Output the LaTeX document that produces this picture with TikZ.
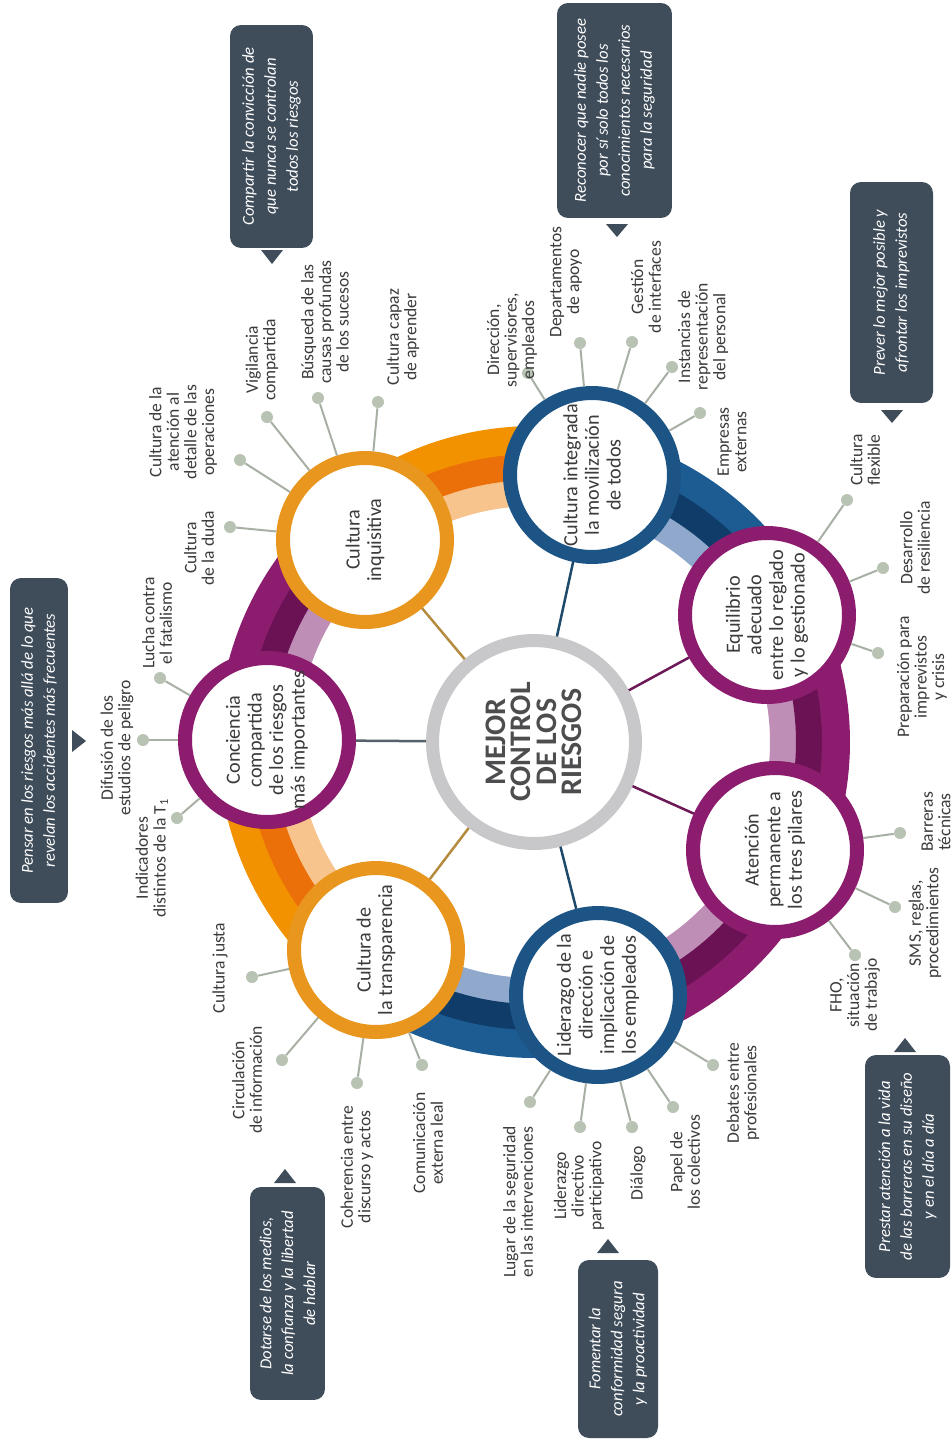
\documentclass[tikz,border=0pt]{standalone}
\usepackage{fontspec}
\setmainfont{Carlito}
\usetikzlibrary{calc}

\definecolor{purp}{HTML}{8C1C6D}
\definecolor{purpdk}{HTML}{6A1253}
\definecolor{purplt}{HTML}{BF8EB6}
\definecolor{oran}{HTML}{F39200}
\definecolor{orandk}{HTML}{EC700A}
\definecolor{oranlt}{HTML}{F8C48E}
\definecolor{oranring}{HTML}{E9961F}
\definecolor{blu}{HTML}{1C5C93}
\definecolor{bludk}{HTML}{0F3C69}
\definecolor{blult}{HTML}{8FA8CB}
\definecolor{bluring}{HTML}{1B5485}
\definecolor{ctrgray}{HTML}{C8C8CA}
\definecolor{ctrtext}{HTML}{4D4D4F}
\definecolor{slate}{HTML}{3F4C5A}
\definecolor{leafline}{HTML}{A8B0A5}
\definecolor{leafdot}{HTML}{B8C3B4}
\definecolor{ink}{HTML}{3B3B3B}
\definecolor{spkgray}{HTML}{56616B}
\definecolor{spkoran}{HTML}{B58B3F}
\definecolor{spkblue}{HTML}{1D4A6B}
\definecolor{spkpurp}{HTML}{6D1857}

\tikzset{
  pillar/.style={shape=circle,draw=#1,line width=0.28cm,fill=white,inner sep=0pt,
    minimum size=3.28cm,rotate=90,align=center,text=ink,font=\fontsize{11.5}{12.3}\selectfont},
  leaf/.style={rotate=90,align=center,inner sep=1pt,text=ink,font=\fontsize{10}{10}\selectfont},
  pin/.style={shape=circle,fill=leafdot,inner sep=0pt,minimum size=0.24cm},
  twig/.style={draw=leafline,line width=0.04cm},
  spoke/.style={draw=#1,line width=0.05cm},
  callout/.style={rounded corners=0.22cm,fill=slate,text=white,rotate=90,align=center,
    inner sep=2pt,font=\fontsize{9.5}{12.5}\selectfont\itshape},
}

% ring segment round the centre, radii in px
\newcommand\arcband[5]{\fill[#1] plot[domain=#2:#3,samples=36] ({534+#5*cos(\x)},{742+#5*sin(\x)})
  -- plot[domain=#3:#2,samples=36] ({534+#4*cos(\x)},{742+#4*sin(\x)}) -- cycle;}

\begin{document}
\begin{tikzpicture}[x=0.02cm,y=-0.02cm]
\path[use as bounding box,fill=white] (0,0) rectangle (952,1450);

% coloured ring
\foreach \k/\c in {0/purp,1/oran,2/blu,3/purp,4/purp,5/blu,6/oran}{
  \pgfmathsetmacro\aa{180+51.4286*\k}
  \pgfmathsetmacro\ab{\aa+51.4286}
  \arcband{\c lt}{\aa}{\ab}{236}{263}
  \arcband{\c dk}{\aa}{\ab}{262}{289}
  \arcband{\c}{\aa}{\ab}{288}{316}
}

\path node (ctr) at (534,742) [shape=circle,draw=ctrgray,line width=0.26cm,fill=white,inner sep=0pt,
        minimum size=4.06cm,rotate=90,align=center,text=ctrtext,font=\fontsize{17}{14.5}\selectfont\bfseries]
        {MEJOR\\CONTROL\\DE LOS\\RIESGOS}
      node (conc) at (267,740) [pillar=purp] {Conciencia\\compartida\\de los riesgos\\más importantes}
      node (inq) at (365,540) [pillar=oranring] {Cultura\\inquisitiva}
      node (int) at (592,475) [pillar=bluring] {Cultura integrada\\la movilización\\de todos}
      node (eq) at (767,615) [pillar=purp] {Equilibrio\\adecuado\\entre lo reglado\\y lo gestionado}
      node (at) at (775,850) [pillar=purp] {Atención\\permanente a\\los tres pilares}
      node (lid) at (598,995) [pillar=bluring] {Liderazgo de la\\dirección e\\implicación de\\los empleados}
      node (trans) at (376,950) [pillar=oranring] {Cultura de\\la transparencia};

\draw [spoke=spkgray] (ctr) -- (conc);
\draw [spoke=spkoran] (ctr) -- (inq);
\draw [spoke=spkblue] (ctr) -- (int);
\draw [spoke=spkpurp] (ctr) -- (eq);
\draw [spoke=spkpurp] (ctr) -- (at);
\draw [spoke=spkblue] (ctr) -- (lid);
\draw [spoke=spkoran] (ctr) -- (trans);

% leaves: parent / pin / label / text
\foreach \p/\dx/\dy/\lx/\ly/\txt [count=\n] in {
  inq/230/527/199/548/{Cultura\\de la duda},
  inq/240/460/183/432/{Cultura de la\\atención al\\detalle de las\\operaciones},
  inq/267/417/262/360/{Vigilancia\\compartida},
  inq/318/398/325/322/{Búsqueda de las\\causas profundas\\de los sucesos},
  inq/378/402/403/337/{Cultura capaz\\de aprender},
  int/528/373/512/340/{Dirección,\\supervisores,\\empleados},
  int/580/343/566/282/{Departamentos\\de apoyo},
  int/632/342/646/287/{Gestión\\de interfaces},
  int/672/367/703/337/{Instancias de\\representación\\del personal},
  int/700/413/732/442/{Empresas\\externas},
  eq/847/500/865/460/{Cultura\\flexible},
  eq/883/568/915/548/{Desarrollo\\de resiliencia},
  eq/878/653/922/677/{Preparación para\\imprevistos\\y crisis},
  at/900/833/936/822/{Barreras\\técnicas},
  at/895/907/925/923/{SMS, reglas,\\procedimientos},
  at/855/955/855/995/{FHO,\\situación\\de trabajo},
  lid/530/1102/518/1202/{Lugar de la seguridad\\en las intervenciones},
  lid/580/1127/579/1186/{Liderazgo\\directivo\\participativo},
  lid/632/1127/638/1173/{Diálogo},
  lid/673/1107/685/1162/{Papel de\\los colectivos},
  lid/713/1065/743/1093/{Debates entre\\profesionales},
  trans/252/977/220/968/{Cultura justa},
  trans/282/1060/247/1080/{Circulación\\de información},
  trans/357/1083/357/1167/{Coherencia entre\\discurso y actos},
  trans/422/1065/428/1143/{Comunicación\\externa leal},
  conc/160/678/157/623/{Lucha contra\\el fatalismo},
  conc/143/740/117/748/{Difusión de los\\estudios de peligro},
  conc/177/818/152/858/{Indicadores\\distintos de la T\textsubscript{1}}}
{
  \node (pin\n) at (\dx,\dy) [pin] {};
  \node (leaf\n) at (\lx,\ly) [leaf] {\txt};
  \draw [twig] (\p) -- (pin\n);
}

% callouts
\node (box1) at (271.5,136.5) [callout,minimum width=4.46cm,minimum height=1.66cm]
  {Compartir la convicción de\\que nunca se controlan\\todos los riesgos};
\node (box2) at (614.5,110.5) [callout,minimum width=4.3cm,minimum height=2.3cm]
  {Reconocer que nadie posee\\por sí solo todos los\\conocimientos necesarios\\para la seguridad};
\node (box3) at (891.5,292.5) [callout,minimum width=4.42cm,minimum height=1.66cm]
  {Prever lo mejor posible y\\afrontar los imprevistos};
\node (box4) at (39,740.5) [callout,minimum width=6.5cm,minimum height=1.16cm]
  {Pensar en los riesgos más allá de lo que\\revelan los accidentes más frecuentes};
\node (box5) at (287.5,1293.5) [callout,minimum width=4.26cm,minimum height=1.5cm]
  {Dotarse de los medios,\\la confianza y la libertad\\de hablar};
\node (box6) at (618,1349) [callout,minimum width=3.56cm,minimum height=1.6cm]
  {Fomentar la\\conformidad segura\\y la proactividad};
\node (box7) at (907.5,1166.5) [callout,minimum width=4.46cm,minimum height=1.7cm]
  {Prestar atención a la vida\\de las barreras en su diseño\\y en el día a día};

\fill [slate] (261,250) -- (283,250) -- (272,264) -- cycle;
\fill [slate] (606,224) -- (628,224) -- (617,237) -- cycle;
\fill [slate] (881,410) -- (903,410) -- (892,423) -- cycle;
\fill [slate] (72,730) -- (72,752) -- (86,741) -- cycle;
\fill [slate] (274,1183) -- (296,1183) -- (285,1169) -- cycle;
\fill [slate] (597,1253) -- (619,1253) -- (608,1239) -- cycle;
\fill [slate] (894,1052) -- (916,1052) -- (905,1038) -- cycle;
\end{tikzpicture}
\end{document}
